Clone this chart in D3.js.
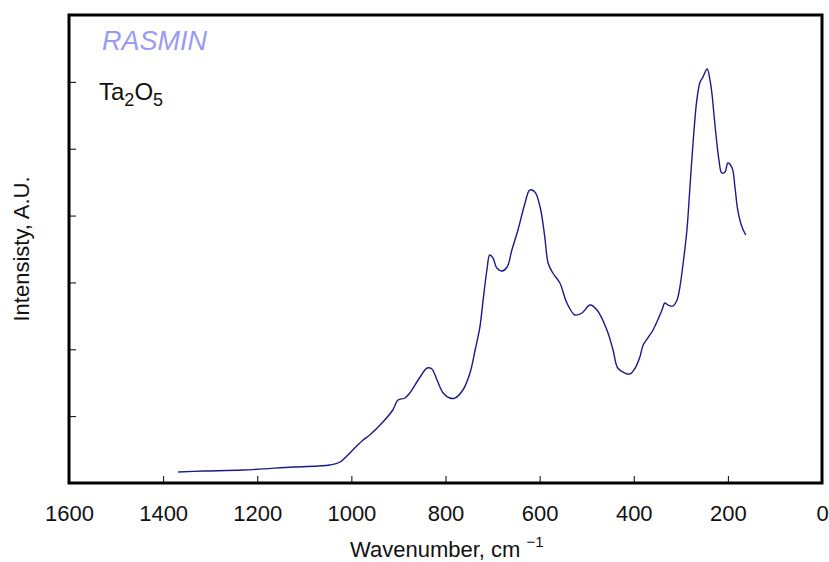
<!DOCTYPE html>
<html>
<head>
<meta charset="utf-8">
<script src="https://cdn.jsdelivr.net/npm/d3@7"></script>
<style>
  body { margin: 0; background: #fff; }
  text { font-family: "Liberation Sans", Arial, sans-serif; }
</style>
</head>
<body>
<svg id="chart" width="829" height="562"></svg>
<script>
// Raman spectrum of Ta2O5
var wavenumber = [1368, 1315, 1230, 1124, 1046, 1024, 997, 975, 961, 933, 912, 901, 886, 876,
  854, 839, 829, 818, 805, 791, 780, 763, 748, 737, 727, 720, 712, 706, 699, 691, 680, 669,
  659, 646, 631, 621, 610, 599, 589, 582, 572, 557, 542, 525, 510, 493, 478, 457, 444, 434,
  419, 408, 397, 387, 380, 370, 359, 349, 340, 334, 327, 317, 308, 302, 295, 287, 281, 274,
  266, 259, 253, 244, 238, 234, 227, 219, 213, 206, 200, 191, 185, 179, 170, 162];
var intensity = [0.165, 0.179, 0.194, 0.239, 0.269, 0.314, 0.494, 0.643, 0.718, 0.912, 1.092,
  1.241, 1.271, 1.346, 1.585, 1.720, 1.705, 1.541, 1.346, 1.271, 1.271, 1.391, 1.645, 1.989,
  2.330, 2.740, 3.186, 3.410, 3.365, 3.216, 3.171, 3.231, 3.485, 3.784, 4.188, 4.382, 4.352,
  4.128, 3.679, 3.290, 3.141, 2.991, 2.692, 2.513, 2.543, 2.662, 2.587, 2.288, 1.989, 1.720,
  1.645, 1.630, 1.720, 1.885, 2.064, 2.169, 2.288, 2.438, 2.587, 2.692, 2.662, 2.647, 2.737,
  2.931, 3.290, 3.784, 4.382, 5.085, 5.728, 5.998, 6.072, 6.192, 6.027, 5.833, 5.325, 4.831,
  4.637, 4.651, 4.786, 4.711, 4.427, 4.083, 3.829, 3.709];
var xTicks = [1600, 1400, 1200, 1000, 800, 600, 400, 200, 0];
var yTicks = [1, 2, 3, 4, 5, 6];

var margin = {top: 15, right: 7, bottom: 79, left: 69},
    width = 829 - margin.left - margin.right,
    height = 562 - margin.top - margin.bottom;

var svg = d3.select("#chart");
var g = svg.append("g")
    .attr("transform", "translate(" + margin.left + "," + margin.top + ")");

var x = d3.scaleLinear().domain([1600, 0]).range([0, width]);
var y = d3.scaleLinear().domain([0, 7]).range([height, 0]);

// inward ticks
var xAxis = g.append("g")
    .attr("transform", "translate(0," + height + ")")
    .call(d3.axisBottom(x).tickValues(xTicks).tickFormat(d3.format("d"))
      .tickSizeInner(-7).tickSizeOuter(0).tickPadding(22));
xAxis.select(".domain").remove();
xAxis.selectAll("line").attr("stroke", "#000").attr("stroke-width", 1);
xAxis.selectAll("text")
    .attr("font-size", "22px")
    .attr("fill", "#111")
    .attr("font-family", "Liberation Sans, Arial, sans-serif");

var yAxis = g.append("g")
    .call(d3.axisLeft(y).tickValues(yTicks).tickSizeInner(-7).tickSizeOuter(0).tickFormat(""));
yAxis.select(".domain").remove();
yAxis.selectAll("line").attr("stroke", "#000").attr("stroke-width", 1);

// frame
g.append("rect")
    .attr("x", 0)
    .attr("y", 0)
    .attr("width", width)
    .attr("height", height)
    .attr("fill", "none")
    .attr("stroke", "#000")
    .attr("stroke-width", 3);

var pts = wavenumber.map(function(w, i){ return [w, intensity[i]]; });

var line = d3.line()
    .x(function(d){ return x(d[0]); })
    .y(function(d){ return y(d[1]); })
    .curve(d3.curveCatmullRom.alpha(0.5));

g.append("path")
    .datum(pts)
    .attr("d", line)
    .attr("fill", "none")
    .attr("stroke", "#1a1a88")
    .attr("stroke-width", 1.4);

// labels
svg.append("text")
    .attr("x", 102)
    .attr("y", 50)
    .attr("font-size", "27px")
    .attr("font-style", "italic")
    .attr("fill", "#9a9af5")
    .text("RASMIN");

var formula = svg.append("text")
    .attr("x", 99)
    .attr("y", 100)
    .attr("font-size", "24px")
    .attr("fill", "#111");
formula.append("tspan").text("Ta");
formula.append("tspan").attr("font-size", "18px").attr("dy", 6).text("2");
formula.append("tspan").attr("dy", -6).text("O");
formula.append("tspan").attr("font-size", "18px").attr("dy", 6).text("5");

var xl = svg.append("text")
    .attr("x", 350)
    .attr("y", 557)
    .attr("font-size", "22px")
    .attr("fill", "#111");
xl.append("tspan").text("Wavenumber, cm ");
xl.append("tspan").attr("font-size", "15px").attr("dy", -10).text("\u22121");

svg.append("text")
    .attr("transform", "translate(29,249) rotate(-90)")
    .attr("text-anchor", "middle")
    .attr("font-size", "22px")
    .attr("fill", "#111")
    .text("Intensisty, A.U.");
</script>
</body>
</html>
